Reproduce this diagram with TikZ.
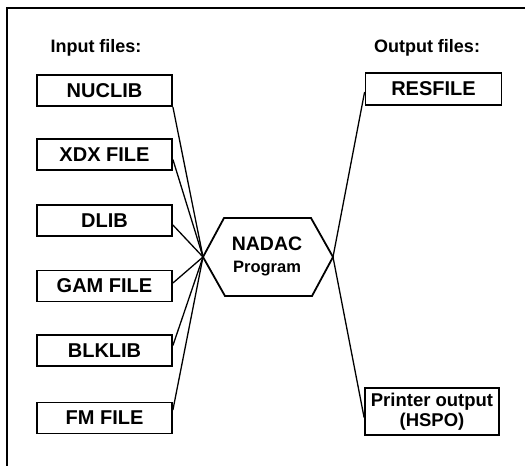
\documentclass[tikz,border=0pt]{standalone}
\usepackage{fontspec}
\setmainfont{Liberation Sans}
\usetikzlibrary{calc}
\tikzset{
  filebox/.style={draw, line width=1.8pt, minimum width=135pt, minimum height=31pt, inner sep=0pt,
    font=\fontsize{20}{22}\selectfont\bfseries},
  header/.style={inner sep=0pt, font=\fontsize{18}{20}\selectfont\bfseries},
  link/.style={line width=1.3pt},
  hexa/.style={line width=1.8pt, line join=miter},
  frame/.style={line width=1.8pt},
}
\begin{document}
\begin{tikzpicture}[x=1pt, y=-1pt]
\useasboundingbox (0,0) rectangle (525,466);
% frame (continues past the picture's edges)
\coordinate (f1) at (7,466);
\coordinate (f2) at (7,8);
\coordinate (f3) at (525,8);
\draw[frame] (f1) -- (f2) -- (f3);
% headers
\node[header] (inh) at (96,48) {Input files:};
\node[header] (outh) at (427,48) {Output files:};
% input files
\node[filebox] (nuclib) at (104.5,90.5) {NUCLIB};
\node[filebox] (xdx) at (104.5,154.5) {XDX FILE};
\node[filebox] (dlib) at (104.5,220.5) {DLIB};
\node[filebox] (gam) at (104.5,286) {GAM FILE};
\node[filebox] (blk) at (104.5,350.5) {BLKLIB};
\node[filebox] (fm) at (104.5,418) {FM FILE};
% output files
\node[filebox, minimum width=136pt, minimum height=32pt] (res) at (433.5,89) {RESFILE};
\node[filebox, minimum width=134pt, minimum height=47pt, align=center,
  font=\fontsize{18.5}{20}\selectfont\bfseries] (prn) at (432,411.5) {Printer output\\(HSPO)};
% program hexagon
\coordinate (hl) at (203,257);
\coordinate (htl) at (224,218);
\coordinate (htr) at (311,218);
\coordinate (hr) at (333,257);
\coordinate (hbr) at (312,296);
\coordinate (hbl) at (225,296);
\draw[hexa] (hl) -- (htl) -- (htr) -- (hr) -- (hbr) -- (hbl) -- cycle;
\node[inner sep=0pt, anchor=base, font=\fontsize{19.5}{21}\selectfont\bfseries] (prog) at (267,250) {NADAC};
\node[inner sep=0pt, anchor=base, font=\fontsize{16.5}{19}\selectfont\bfseries] (prog2) at (267,272) {Program};
% connectors
\draw[link] (nuclib.south east) -- (hl);
\draw[link] ([yshift=-5pt]xdx.east) -- (hl);
\draw[link] ([yshift=-4.5pt]dlib.east) -- (hl);
\draw[link] ([yshift=3pt]gam.east) -- (hl);
\draw[link] ([yshift=5pt]blk.east) -- (hl);
\draw[link] ([yshift=8pt]fm.east) -- (hl);
\draw[link] ([yshift=-3pt]res.west) -- (hr);
\draw[link] (hr) -- ([yshift=-6pt]prn.west);
\end{tikzpicture}
\end{document}
